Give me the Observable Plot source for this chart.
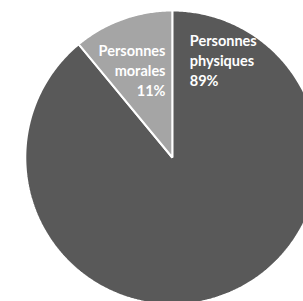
<!DOCTYPE html>
<html>
<head>
<meta charset="utf-8">
<script src="https://cdn.jsdelivr.net/npm/d3@7"></script>
<script src="https://cdn.jsdelivr.net/npm/@observablehq/plot@0.6"></script>
<style>
  html, body { margin: 0; padding: 0; background: #fff; }
  svg { display: block; }
</style>
</head>
<body>
<div id="chart"></div>
<script>
// Data (clockwise from 12 o'clock)
const categories = ["Personnes physiques", "Personnes morales"];
const shares = [89, 11];
const labels = ["Personnes\nphysiques\n89%", "Personnes\nmorales\n11%"];
const colors = ["#595959", "#a5a5a5"];

const W = 303, H = 301;
const R = 147, cx = 171.8, cy = 157;

const arcs = d3.pie().sort(null).value(d => d)(shares);

// polygon outline for each slice in unit-radius coordinates (y up)
const pts = [];
arcs.forEach((a, i) => {
  const cat = categories[i];
  pts.push({cat, x: 0, y: 0});
  const n = Math.max(2, Math.ceil((a.endAngle - a.startAngle) / 0.01));
  for (let k = 0; k <= n; k++) {
    const t = a.startAngle + (a.endAngle - a.startAngle) * k / n;
    pts.push({cat, x: Math.sin(t), y: Math.cos(t)});
  }
});

const center = [{x: 0, y: 0}];

const chart = Plot.plot({
  width: W,
  height: H,
  margin: 0,
  style: {background: "#fff", fontFamily: "Lato, 'Open Sans', sans-serif"},
  x: {domain: [-cx / R, (W - cx) / R], axis: null},
  y: {domain: [-(H - cy) / R, cy / R], axis: null},
  color: {domain: categories, range: colors},
  marks: [
    Plot.line(pts, {
      x: "x", y: "y", z: "cat", fill: "cat",
      stroke: "#fff", strokeWidth: 2, strokeLinejoin: "miter",
      curve: "linear-closed", clip: true
    }),
    Plot.text(center, {
      x: "x", y: "y", text: () => labels[0],
      textAnchor: "start", lineAnchor: "bottom", lineHeight: 1.35,
      dx: 17.5, dy: -72, fill: "#fff", fontWeight: "bold", fontSize: 14.5
    }),
    Plot.text(center, {
      x: "x", y: "y", text: () => labels[1],
      textAnchor: "end", lineAnchor: "bottom", lineHeight: 1.35,
      dx: -6.8, dy: -62, fill: "#fff", fontWeight: "bold", fontSize: 14.5
    })
  ]
});
document.getElementById("chart").appendChild(chart);
</script>
</body>
</html>
